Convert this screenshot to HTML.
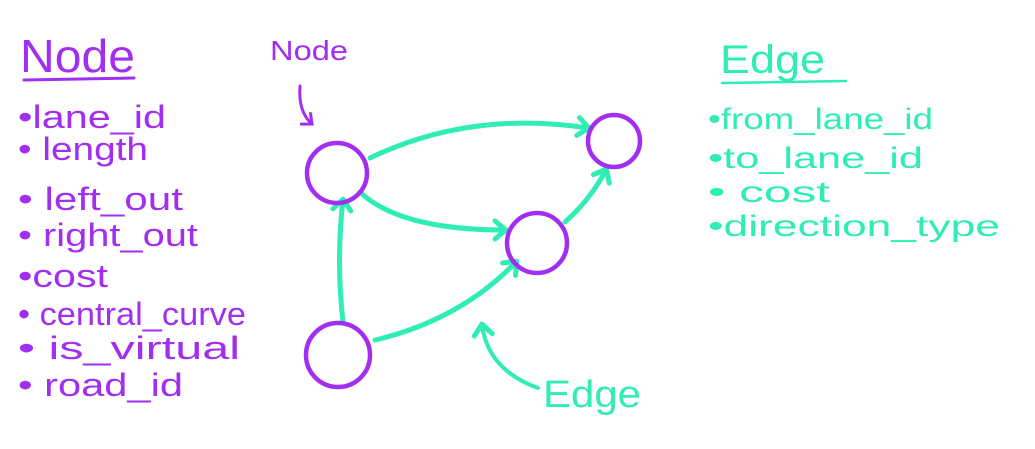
<!DOCTYPE html>
<html><head><meta charset="utf-8"><style>
html,body{margin:0;padding:0;background:#fff;}
svg{display:block}
text{font-family:"Liberation Sans",sans-serif;}
.p{fill:#a22ff0}
.g{fill:#2fedb4}
</style></head><body>
<svg width="1035" height="449" viewBox="0 0 1035 449" xmlns="http://www.w3.org/2000/svg">
<defs>
<marker id="ag" markerWidth="24" markerHeight="24" refX="14" refY="12" orient="auto" markerUnits="userSpaceOnUse"><path d="M4,3 L15,12 L4,21" fill="none" stroke="#2fedb4" stroke-width="5" stroke-linecap="round" stroke-linejoin="round"/></marker>
<marker id="ap" markerWidth="20" markerHeight="20" refX="12" refY="10" orient="auto" markerUnits="userSpaceOnUse"><path d="M4,3 L12,10 L4,17" fill="none" stroke="#a22ff0" stroke-width="3" stroke-linecap="round"/></marker>
</defs>
<text x="20" y="72" class="p" font-size="46" textLength="115" lengthAdjust="spacingAndGlyphs">Node</text>
<line x1="24" y1="80" x2="134" y2="78" stroke="#a22ff0" stroke-width="3" stroke-linecap="round"/>
<g class="p" font-size="32">
<text x="18" y="128" textLength="148" lengthAdjust="spacingAndGlyphs">•lane_id</text>
<text x="18" y="160" textLength="130" lengthAdjust="spacingAndGlyphs">• length</text>
<text x="18" y="210" textLength="165" lengthAdjust="spacingAndGlyphs">• left_out</text>
<text x="18" y="246" textLength="180" lengthAdjust="spacingAndGlyphs">• right_out</text>
<text x="18" y="287" textLength="90" lengthAdjust="spacingAndGlyphs">•cost</text>
<text x="18" y="325" textLength="228" lengthAdjust="spacingAndGlyphs">• central_curve</text>
<text x="18" y="359" textLength="222" lengthAdjust="spacingAndGlyphs">•  is_virtual</text>
<text x="18" y="396" textLength="165" lengthAdjust="spacingAndGlyphs">•  road_id</text>
</g>
<text x="720" y="73" class="g" font-size="40" textLength="105" lengthAdjust="spacingAndGlyphs">Edge</text>
<line x1="722" y1="83" x2="846" y2="81" stroke="#2fedb4" stroke-width="2.5" stroke-linecap="round"/>
<g class="g" font-size="30">
<text x="708" y="129" textLength="225" lengthAdjust="spacingAndGlyphs">•from_lane_id</text>
<text x="708" y="168" textLength="215" lengthAdjust="spacingAndGlyphs">•to_lane_id</text>
<text x="708" y="202" textLength="122" lengthAdjust="spacingAndGlyphs">•  cost</text>
<text x="708" y="236" textLength="292" lengthAdjust="spacingAndGlyphs">•direction_type</text>
</g>
<text x="270" y="60" class="p" font-size="28" textLength="78" lengthAdjust="spacingAndGlyphs">Node</text>
<path d="M300,86 Q298,112 312,124" fill="none" stroke="#a22ff0" stroke-width="3" stroke-linecap="round" marker-end="url(#ap)"/>
<text x="543" y="407" class="g" font-size="38" textLength="98" lengthAdjust="spacingAndGlyphs">Edge</text>
<path d="M538,388 Q488,370 482,325" fill="none" stroke="#2fedb4" stroke-width="4" stroke-linecap="round" marker-end="url(#ag)"/>
<g fill="none" stroke="#2fedb4" stroke-width="5" stroke-linecap="round">
<path d="M370,158 Q470,110 588,128" marker-end="url(#ag)"/>
<path d="M360,192 Q400,230 505,230" marker-end="url(#ag)"/>
<path d="M565,222 Q590,200 606,170" marker-end="url(#ag)"/>
<path d="M375,340 Q460,320 516,262" marker-end="url(#ag)"/>
<path d="M343,322 Q336,260 343,200" marker-end="url(#ag)"/>
</g>
<g fill="none" stroke="#a22ff0" stroke-width="4.5">
<circle cx="337" cy="173" r="30"/>
<circle cx="614" cy="141" r="26"/>
<circle cx="537" cy="243" r="30"/>
<circle cx="338" cy="355" r="32"/>
</g>
</svg>
</body></html>
